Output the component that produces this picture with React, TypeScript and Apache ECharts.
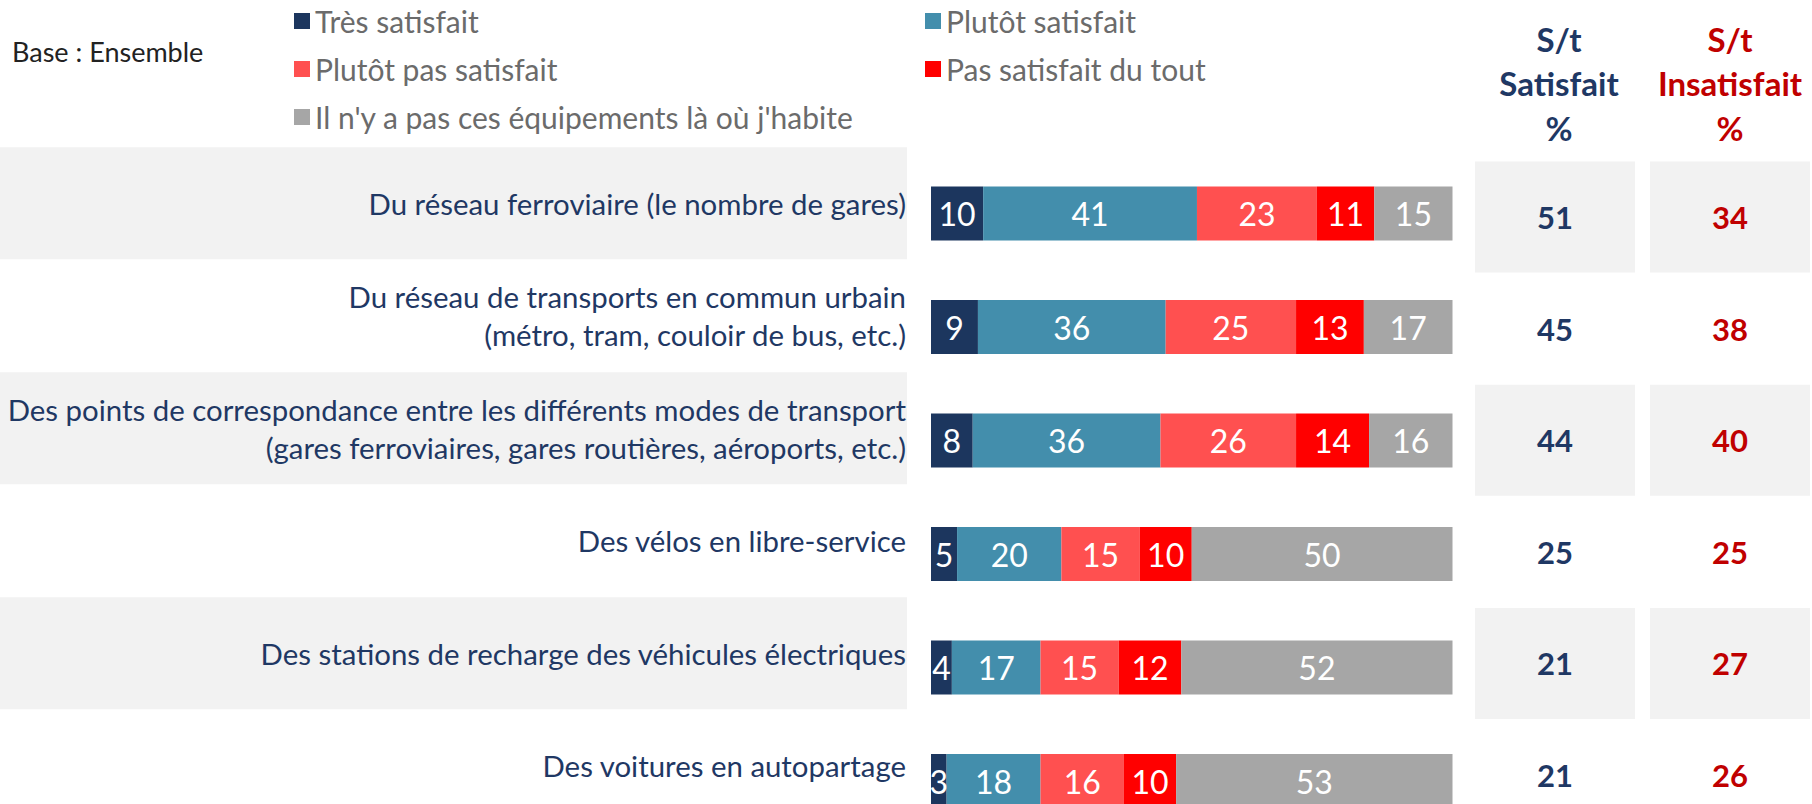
import React, { useEffect, useRef } from "react";
import * as echarts from "echarts";

const categories = [
  "Du réseau ferroviaire (le nombre de gares)",
  "Du réseau de transports en commun urbain\n(métro, tram, couloir de bus, etc.)",
  "Des points de correspondance entre les différents modes de transport\n(gares ferroviaires, gares routières, aéroports, etc.)",
  "Des vélos en libre-service",
  "Des stations de recharge des véhicules électriques",
  "Des voitures en autopartage",
];

const seriesNames = [
  "Très satisfait",
  "Plutôt satisfait",
  "Plutôt pas satisfait",
  "Pas satisfait du tout",
  "Il n'y a pas ces équipements là où j'habite",
];

const tresSatisfait = [10, 9, 8, 5, 4, 3];
const plutotSatisfait = [41, 36, 36, 20, 17, 18];
const plutotPasSatisfait = [23, 25, 26, 15, 15, 16];
const pasSatisfaitDuTout = [11, 13, 14, 10, 12, 10];
const pasEquipements = [15, 17, 16, 50, 52, 53];

const stSatisfait = [51, 45, 44, 25, 21, 21];
const stInsatisfait = [34, 38, 40, 25, 27, 26];

const colors = ["#1C365E", "#438EAC", "#FF5050", "#FF0000", "#A6A6A6"];
const FONT = "Lato";
const NAVY = "#1F3864";
const RED = "#C00000";

export default function App() {
  const ref = useRef<HTMLDivElement>(null);

  useEffect(() => {
    if (!ref.current) return;
    const chart = echarts.init(ref.current, undefined, { renderer: "svg" });
    const values = [tresSatisfait, plutotSatisfait, plutotPasSatisfait, pasSatisfaitDuTout, pasEquipements];

    const hiddenCat = (gridIndex: number) => ({
      type: "category" as const,
      gridIndex,
      data: categories,
      inverse: true,
      axisLine: { show: false },
      axisTick: { show: false },
      axisLabel: { show: false },
      splitLine: { show: false },
    });
    const hiddenVal = (gridIndex: number, max: number) => ({
      type: "value" as const,
      gridIndex,
      min: 0,
      max,
      show: false,
    });

    const barSeries = seriesNames.map((name, si) => ({
      name,
      type: "bar" as const,
      stack: "total",
      xAxisIndex: 0,
      yAxisIndex: 0,
      barWidth: 54,
      itemStyle: { color: colors[si] },
      label: {
        show: true,
        position: "inside" as const,
        color: "#FFFFFF",
        fontFamily: FONT,
        fontSize: 32,
      },
      data: values[si],
    }));

    const statSeries = (gridIndex: number, arr: number[], color: string) => ({
      name: "stat" + gridIndex,
      type: "bar" as const,
      xAxisIndex: gridIndex,
      yAxisIndex: gridIndex,
      barWidth: 111,
      silent: true,
      data: arr.map((v, i) => ({
        value: 1,
        itemStyle: { color: i % 2 === 0 ? "#F2F2F2" : "rgba(0,0,0,0)" },
      })),
      label: {
        show: true,
        position: "inside" as const,
        color,
        fontFamily: FONT,
        fontWeight: "bold" as const,
        fontSize: 31,
        formatter: (p: any) => String(arr[p.dataIndex]),
      },
    });

    const headerStyle = (text: string, fill: string) => ({
      text,
      fill,
      fontFamily: FONT,
      fontWeight: "bold",
      fontSize: 33,
      lineHeight: 44.5,
      align: "center",
      verticalAlign: "middle",
    });

    const gridBase = { outerBoundsMode: "none", containLabel: false };

    chart.setOption({
      animation: false,
      backgroundColor: "#FFFFFF",
      textStyle: { fontFamily: FONT },
      grid: [
        { ...gridBase, left: 931, width: 521.5, top: 156.75, height: 681 },
        { ...gridBase, left: 0, width: 907, top: 147, height: 675 },
        { ...gridBase, left: 1475, width: 160, top: 161.2, height: 669.6 },
        { ...gridBase, left: 1650, width: 160, top: 161.2, height: 669.6 },
      ],
      xAxis: [hiddenVal(0, 100), hiddenVal(1, 1), hiddenVal(2, 1), hiddenVal(3, 1)],
      yAxis: [
        hiddenCat(0),
        {
          type: "category",
          gridIndex: 1,
          data: categories,
          inverse: true,
          position: "right",
          z: 10,
          axisLine: { show: false },
          axisTick: { show: false },
          splitLine: { show: false },
          axisLabel: {
            inside: true,
            margin: 1,
            color: NAVY,
            fontFamily: FONT,
            fontSize: 29.4,
            lineHeight: 38,
            align: "right",
            padding: [18, 0, 0, 0],
          },
        },
        hiddenCat(2),
        hiddenCat(3),
      ],
      legend: [
        {
          orient: "vertical",
          left: 289,
          top: 0,
          itemWidth: 16,
          itemHeight: 16,
          itemGap: 16,
          icon: "rect",
          selectedMode: false,
          data: [seriesNames[0], seriesNames[2], seriesNames[4]],
          textStyle: { color: "#6B6B6B", fontFamily: FONT, fontSize: 30, lineHeight: 32 },
        },
        {
          orient: "vertical",
          left: 920,
          top: 0,
          itemWidth: 16,
          itemHeight: 16,
          itemGap: 16,
          icon: "rect",
          selectedMode: false,
          data: [seriesNames[1], seriesNames[3]],
          textStyle: { color: "#6B6B6B", fontFamily: FONT, fontSize: 30, lineHeight: 32 },
        },
      ],
      graphic: [
        {
          type: "text",
          x: 12,
          y: 51,
          style: {
            text: "Base : Ensemble",
            fill: "#222222",
            fontFamily: FONT,
            fontSize: 27,
            verticalAlign: "middle",
          },
        },
        { type: "text", x: 1559, y: 83, style: headerStyle("S/t\nSatisfait\n%", NAVY) },
        { type: "text", x: 1730, y: 83, style: headerStyle("S/t\nInsatisfait\n%", RED) },
      ],
      series: [
        {
          name: "bands",
          type: "bar",
          xAxisIndex: 1,
          yAxisIndex: 1,
          barWidth: 112,
          silent: true,
          z: 0,
          data: categories.map((_, i) => ({
            value: 1,
            itemStyle: { color: i % 2 === 0 ? "#F2F2F2" : "rgba(0,0,0,0)" },
          })),
        },
        ...barSeries,
        statSeries(2, stSatisfait, NAVY),
        statSeries(3, stInsatisfait, RED),
      ],
    });

    return () => chart.dispose();
  }, []);

  return (
    <div
      style={{ position: "absolute", left: 0, top: 0, width: 1812, height: 804, overflow: "hidden" }}
    >
      <div ref={ref} style={{ width: 1812, height: 880 }} />
    </div>
  );
}
